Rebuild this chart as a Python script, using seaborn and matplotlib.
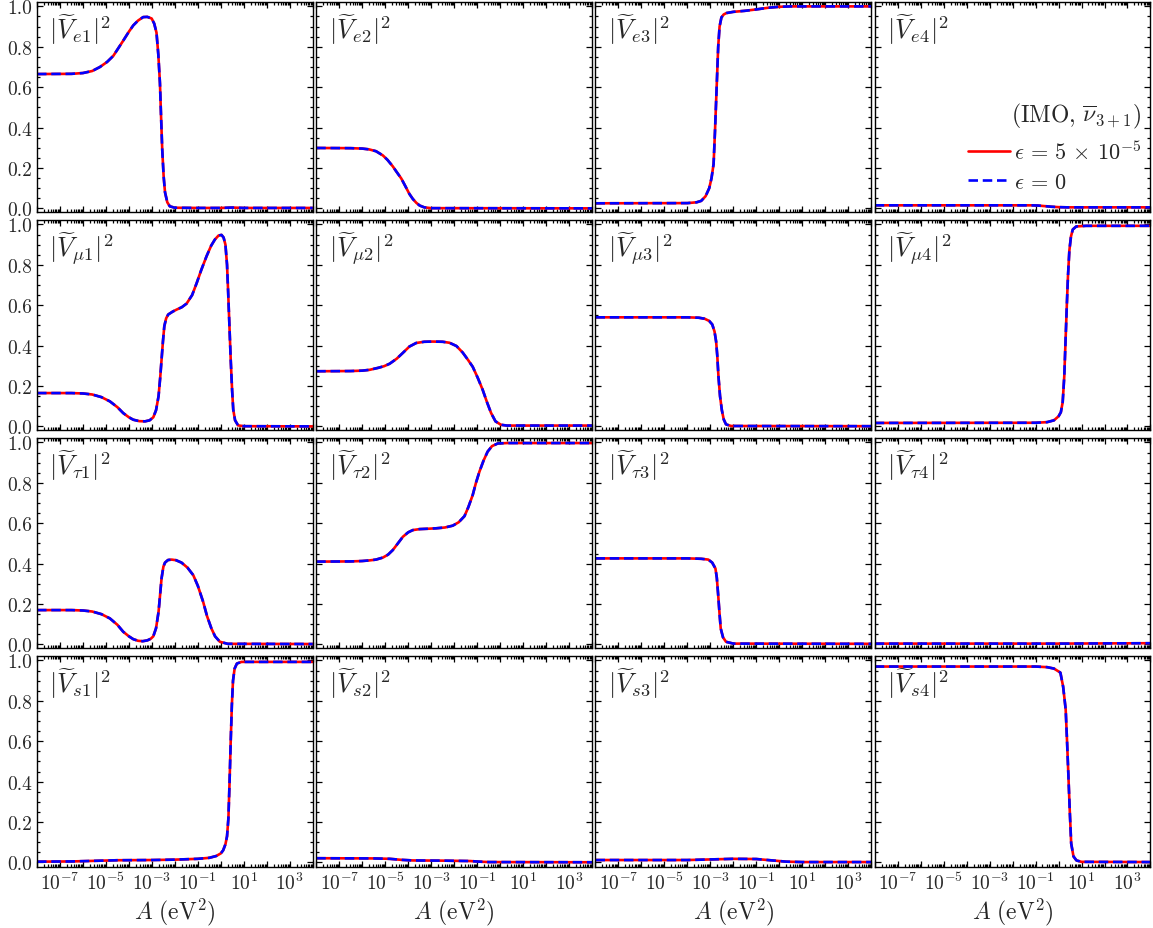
import numpy as np
import pandas as pd
import matplotlib
matplotlib.use("Agg")
import matplotlib.pyplot as plt
import matplotlib.ticker as mticker
import seaborn as sns

# ---------------- data (log10 A, |V|^2) ----------------
x_e1 = [-8, -6.5, -6.0, -5.6, -5.26, -4.95, -4.68, -4.45, -4.25, -4.0, -3.81, -3.6, -3.38, -3.2, -3.01, -2.9, -2.8, -2.72, -2.65, -2.6, -2.55, -2.49, -2.43, -2.33, -2.22, -2.0, -1.0, 0.0, 0.5, 1.0, 4]
y_e1 = [0.665, 0.666, 0.670, 0.680, 0.70, 0.725, 0.755, 0.795, 0.83, 0.875, 0.906, 0.93, 0.947, 0.948, 0.94, 0.915, 0.87, 0.76, 0.62, 0.45, 0.29, 0.16, 0.08, 0.03, 0.01, 0.003, 0.002, 0.002, 0.004, 0.002, 0.002]

x_e2 = [-8, -6.5, -6.0, -5.7, -5.4, -5.1, -4.9, -4.67, -4.5, -4.3, -4.1, -3.95, -3.8, -3.65, -3.5, -3.3, -3.0, 4]
y_e2 = [0.299, 0.298, 0.296, 0.292, 0.283, 0.262, 0.24, 0.208, 0.18, 0.148, 0.105, 0.072, 0.047, 0.028, 0.014, 0.005, 0.001, 0.0]

x_e3 = [-8, -4.0, -3.6, -3.4, -3.21, -3.05, -2.95, -2.86, -2.8, -2.72, -2.66, -2.6, -2.52, -2.42, -2.3, -2.0, -1.5, -1.0, -0.5, 0.0, 0.5, 4]
y_e3 = [0.025, 0.026, 0.03, 0.037, 0.06, 0.1, 0.15, 0.22, 0.38, 0.62, 0.8, 0.9, 0.945, 0.96, 0.967, 0.973, 0.978, 0.985, 0.993, 0.998, 1.0, 1.0]

x_e4 = [-8, -1.2, -0.9, -0.6, -0.3, 0.0, 0.4, 4]
y_e4 = [0.015, 0.015, 0.014, 0.011, 0.008, 0.006, 0.005, 0.005]

x_mu1 = [-8, -6.5, -6.0, -5.6, -5.2, -4.83, -4.5, -4.25, -4.0, -3.81, -3.55, -3.3, -3.1, -2.94, -2.82, -2.71, -2.64, -2.58, -2.52, -2.46, -2.38, -2.29, -2.1, -1.93, -1.7, -1.49, -1.25, -1.05, -0.85, -0.62, -0.42, -0.26, -0.1, 0.03, 0.12, 0.2, 0.27, 0.32, 0.38, 0.43, 0.49, 0.54, 0.62, 0.75, 1.0, 4]
y_mu1 = [0.165, 0.165, 0.163, 0.158, 0.145, 0.124, 0.095, 0.066, 0.045, 0.033, 0.026, 0.025, 0.03, 0.045, 0.08, 0.15, 0.24, 0.33, 0.42, 0.496, 0.535, 0.554, 0.568, 0.578, 0.59, 0.608, 0.65, 0.71, 0.775, 0.843, 0.895, 0.925, 0.945, 0.948, 0.935, 0.9, 0.8, 0.66, 0.48, 0.33, 0.18, 0.083, 0.03, 0.005, 0.001, 0.0]

x_mu2 = [-8, -6.5, -6.0, -5.68, -5.3, -5.05, -4.81, -4.5, -4.23, -3.95, -3.65, -3.3, -2.93, -2.5, -2.2, -1.9, -1.63, -1.4, -1.19, -0.97, -0.76, -0.57, -0.39, -0.2, 0.04, 0.3, 4]
y_mu2 = [0.273, 0.274, 0.276, 0.28, 0.29, 0.298, 0.31, 0.335, 0.364, 0.395, 0.413, 0.419, 0.42, 0.419, 0.414, 0.398, 0.366, 0.33, 0.295, 0.24, 0.182, 0.12, 0.066, 0.025, 0.008, 0.004, 0.004]

x_mu3 = [-8, -4.0, -3.5, -3.25, -3.05, -2.92, -2.82, -2.75, -2.7, -2.65, -2.58, -2.5, -2.42, -2.32, -2.1, 4]
y_mu3 = [0.54, 0.54, 0.538, 0.533, 0.522, 0.505, 0.47, 0.42, 0.35, 0.25, 0.15, 0.08, 0.035, 0.01, 0.002, 0.001]

x_mu4 = [-8, -1.0, -0.5, -0.2, 0.0, 0.1, 0.18, 0.25, 0.3, 0.36, 0.41, 0.47, 0.54, 0.62, 0.77, 1.2, 4]
y_mu4 = [0.017, 0.018, 0.021, 0.03, 0.05, 0.07, 0.12, 0.25, 0.41, 0.6, 0.744, 0.87, 0.94, 0.975, 0.99, 0.993, 0.993]

x_tau1 = [-8, -6.5, -6.0, -5.6, -5.2, -4.83, -4.5, -4.25, -4.0, -3.81, -3.6, -3.4, -3.2, -3.05, -2.94, -2.82, -2.71, -2.64, -2.58, -2.5, -2.43, -2.3, -2.14, -1.95, -1.71, -1.45, -1.2, -1.0, -0.77, -0.6, -0.41, -0.25, -0.04, 0.3, 4]
y_tau1 = [0.17, 0.17, 0.168, 0.163, 0.15, 0.129, 0.097, 0.063, 0.04, 0.026, 0.018, 0.016, 0.02, 0.028, 0.04, 0.08, 0.162, 0.25, 0.327, 0.385, 0.405, 0.418, 0.42, 0.417, 0.405, 0.38, 0.343, 0.29, 0.211, 0.14, 0.079, 0.04, 0.013, 0.003, 0.002]

x_tau2 = [-8, -6.5, -6.0, -5.68, -5.4, -5.1, -4.87, -4.67, -4.45, -4.23, -4.0, -3.8, -3.5, -3.1, -2.78, -2.4, -2.06, -1.8, -1.55, -1.38, -1.19, -1.05, -0.9, -0.72, -0.54, -0.35, -0.1, 0.3, 4]
y_tau2 = [0.41, 0.411, 0.413, 0.416, 0.42, 0.43, 0.445, 0.467, 0.5, 0.533, 0.555, 0.566, 0.571, 0.573, 0.575, 0.579, 0.588, 0.605, 0.635, 0.68, 0.74, 0.8, 0.855, 0.91, 0.955, 0.982, 0.995, 0.997, 0.997]

x_tau3 = [-8, -4.0, -3.4, -3.09, -2.92, -2.78, -2.72, -2.66, -2.6, -2.55, -2.45, -2.32, -2.0, 4]
y_tau3 = [0.426, 0.426, 0.424, 0.42, 0.405, 0.376, 0.33, 0.244, 0.15, 0.079, 0.035, 0.013, 0.004, 0.003]

x_tau4 = [-8, 0.0, 2.0, 4]
y_tau4 = [0.004, 0.004, 0.005, 0.006]

x_s1 = [-8, -6.5, -5.5, -4.5, -3.0, -2.0, -1.0, -0.5, -0.2, 0.0, 0.1, 0.2, 0.27, 0.33, 0.38, 0.43, 0.48, 0.53, 0.6, 0.7, 0.9, 4]
y_s1 = [0.004, 0.005, 0.008, 0.011, 0.012, 0.014, 0.018, 0.023, 0.032, 0.045, 0.06, 0.09, 0.13, 0.22, 0.4, 0.6, 0.78, 0.9, 0.96, 0.985, 0.993, 0.993]

x_s2 = [-8, -5.5, -4.8, -4.3, -3.8, -2.5, -1.3, -0.9, -0.5, 4]
y_s2 = [0.021, 0.02, 0.018, 0.013, 0.01, 0.009, 0.007, 0.004, 0.002, 0.001]

x_s3 = [-8, -4, -3, -2, -1, -0.3, 0.3, 1, 4]
y_s3 = [0.012, 0.012, 0.015, 0.018, 0.017, 0.01, 0.004, 0.002, 0.002]

x_s4 = [-8, -1.0, -0.5, -0.2, 0.08, 0.2, 0.31, 0.37, 0.43, 0.49, 0.55, 0.65, 0.78, 1.0, 4]
y_s4 = [0.97, 0.97, 0.967, 0.96, 0.94, 0.87, 0.758, 0.6, 0.426, 0.25, 0.094, 0.03, 0.01, 0.003, 0.002]

flavours = ["e", r"\mu", r"\tau", "s"]
mass_idx = ["1", "2", "3", "4"]
panel_data = [
    [(x_e1, y_e1), (x_e2, y_e2), (x_e3, y_e3), (x_e4, y_e4)],
    [(x_mu1, y_mu1), (x_mu2, y_mu2), (x_mu3, y_mu3), (x_mu4, y_mu4)],
    [(x_tau1, y_tau1), (x_tau2, y_tau2), (x_tau3, y_tau3), (x_tau4, y_tau4)],
    [(x_s1, y_s1), (x_s2, y_s2), (x_s3, y_s3), (x_s4, y_s4)],
]
series_labels = [r"$\epsilon\,=\,5\,\times\,10^{-5}$", r"$\epsilon\,=\,0$"]
legend_title = r"$(\mathrm{IMO},\,\overline{\nu}_{3+1})$"
xlabel = r"$A\ (\mathrm{eV}^2)$"

# ---------------- style ----------------
sns.set_theme(style="ticks")
plt.rcParams["font.family"] = ["cmr10", "DejaVu Serif"]
plt.rcParams["mathtext.fontset"] = "cm"
plt.rcParams["axes.formatter.use_mathtext"] = True
plt.rcParams["axes.unicode_minus"] = False

fig, axes = plt.subplots(4, 4, figsize=(11.53, 9.29), dpi=100, sharex=True, sharey=True)
fig.subplots_adjust(left=0.0321, right=0.9978, top=0.9964, bottom=0.0662, wspace=0.0127, hspace=0.038)

def odd_fmt(v, pos):
    e = int(round(np.log10(v)))
    return r"$10^{%d}$" % e if e % 2 != 0 else ""

for i in range(4):
    for j in range(4):
        ax = axes[i, j]
        lx, ly = panel_data[i][j]
        A = np.power(10.0, np.array(lx, dtype=float))
        df = pd.DataFrame({"A": A, "V": ly})
        sns.lineplot(data=df, x="A", y="V", ax=ax, color="red", lw=1.9,
                     label=series_labels[0], legend=False)
        sns.lineplot(data=df, x="A", y="V", ax=ax, color="blue", lw=1.9,
                     linestyle=(0, (3.6, 1.8)), label=series_labels[1], legend=False)
        ax.set_xscale("log")
        ax.set_xlim(1e-8, 1e4)
        ax.set_ylim(-0.02, 1.02)
        ax.xaxis.set_major_locator(mticker.FixedLocator([10.0 ** k for k in range(-8, 5)]))
        ax.xaxis.set_minor_locator(mticker.LogLocator(base=10, subs=np.arange(2, 10), numticks=100))
        ax.xaxis.set_major_formatter(mticker.FuncFormatter(odd_fmt))
        ax.xaxis.set_minor_formatter(mticker.NullFormatter())
        ax.yaxis.set_major_locator(mticker.MultipleLocator(0.2))
        ax.yaxis.set_minor_locator(mticker.MultipleLocator(0.05))
        ax.yaxis.set_major_formatter(mticker.FormatStrFormatter("%.1f"))
        ax.tick_params(which="both", direction="in", top=True, right=True, labelsize=14,
                       color="black", width=0.9)
        ax.tick_params(which="major", length=4.5)
        ax.tick_params(which="minor", length=2.3)
        for sp in ax.spines.values():
            sp.set_linewidth(1.0)
            sp.set_color("black")
        ax.set_xlabel("")
        ax.set_ylabel("")
        ax.text(0.045, 0.955, r"$|\widetilde{V}_{%s%s}|^2$" % (flavours[i], mass_idx[j]),
                transform=ax.transAxes, ha="left", va="top", fontsize=19)
        if i == 3:
            ax.set_xlabel(xlabel, fontsize=17, labelpad=2)

leg_ax = axes[0, 3]
handles, labels = leg_ax.get_legend_handles_labels()
leg = leg_ax.legend(handles[:2], series_labels, title=legend_title, loc="upper right",
                    bbox_to_anchor=(1.015, 0.595), frameon=False, fontsize=16,
                    title_fontsize=17, handlelength=1.9, handletextpad=0.15,
                    labelspacing=0.42, alignment="right", borderaxespad=0.2)

fig.savefig("out.png", dpi=100)
